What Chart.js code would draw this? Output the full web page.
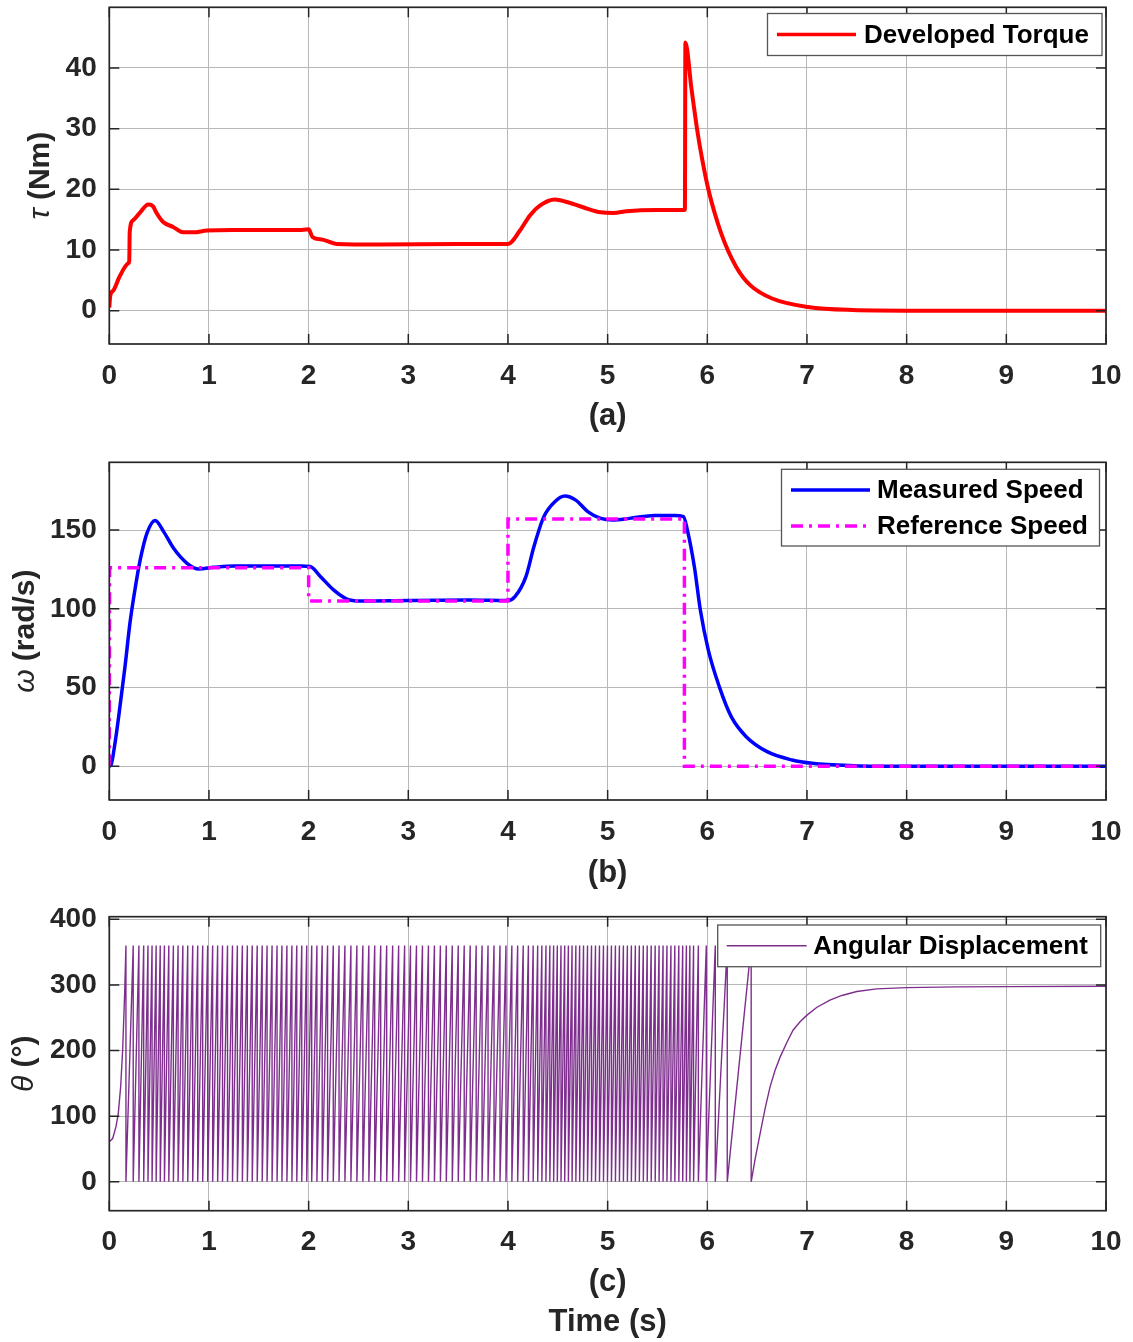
<!DOCTYPE html>
<html>
<head>
<meta charset="utf-8">
<title>Torque, speed and angular displacement</title>
<script src="https://cdn.jsdelivr.net/npm/chart.js@4.4.1/dist/chart.umd.min.js"></script>
<style>
  html, body { margin: 0; padding: 0; background: #fff; }
  #wrap { position: relative; width: 1133px; height: 1342px; }
  canvas { position: absolute; left: 0; }
</style>
</head>
<body>
<div id="wrap">
  <canvas id="torque" width="1133" height="450" style="top:0;width:1133px;height:450px"></canvas>
  <canvas id="speed" width="1133" height="450" style="top:450px;width:1133px;height:450px"></canvas>
  <canvas id="angle" width="1133" height="442" style="top:900px;width:1133px;height:442px"></canvas>
</div>
<script>
// Motor drive response: developed torque, speed tracking and rotor angle.

const xTicks = [0, 1, 2, 3, 4, 5, 6, 7, 8, 9, 10];
const torqueTicks = [0, 10, 20, 30, 40];
const speedTicks = [0, 50, 100, 150];
const angleTicks = [0, 100, 200, 300, 400];

// (a) developed torque, Nm
const torqueT  = [0, 0.01, 0.04, 0.1, 0.19, 0.2, 0.205, 0.24, 0.31, 0.39, 0.44, 0.47, 0.54, 0.64, 0.74, 0.84, 0.98, 1.24, 1.9, 2.0,
                  2.04, 2.14, 2.28, 2.71, 3.5, 4.0, 4.12, 4.22, 4.32, 4.47, 4.59, 4.76, 4.93, 5.06, 5.19, 5.49, 5.775,
                  5.78, 5.84, 5.9, 5.95, 6.01, 6.14, 6.29, 6.43, 6.65, 7.01, 7.46, 8.0, 10.0];
const torqueNm = [0.5, 2.5, 3.3, 5.5, 7.8, 8.2, 13.0, 14.9, 16.2, 17.5, 17.2, 16.2, 14.6, 13.8, 12.9, 12.9, 13.2, 13.3, 13.3, 13.4,
                  12.1, 11.7, 11.0, 10.9, 11.0, 11.0, 13.2, 15.7, 17.3, 18.3, 17.9, 17.0, 16.2, 16.1, 16.4, 16.6, 16.6,
                  44.2, 36.7, 29.6, 24.8, 20.0, 12.7, 7.2, 4.2, 2.0, 0.6, 0.1, 0, 0];

// (b) measured and reference speed, rad/s
const speedT    = [0, 0.017, 0.057, 0.107, 0.157, 0.207, 0.257, 0.31, 0.378, 0.46, 0.545, 0.645, 0.78, 0.896, 1.046, 1.25, 1.92,
                   2.015, 2.12, 2.25, 2.384, 2.52, 3.0, 3.6, 4.0, 4.07, 4.18, 4.26, 4.36, 4.47, 4.57, 4.68, 4.8, 4.93, 5.05,
                   5.22, 5.47, 5.67, 5.76, 5.8, 5.87, 5.93, 6.01, 6.12, 6.24, 6.39, 6.6, 6.85, 7.05, 7.47, 8.0, 10.0];
const speedMeas = [0, 0.8, 14.6, 37.9, 63, 90.8, 112, 131, 148, 156, 149, 138.4, 128.9, 125.3, 126.3, 127.2, 127.2,
                   126.8, 120.4, 112, 106.2, 105, 105.3, 105.5, 105.2, 107.7, 120.4, 139.4, 158.5, 168, 171.6, 169, 161.7, 157.4, 156.4,
                   157.4, 159.3, 159.3, 158.5, 150, 126.7, 99.2, 73.8, 50.6, 31.5, 18.8, 9.3, 4.0, 1.9, 0.4, 0, 0];
const refT      = [0, 0.003, 2, 2, 4, 4, 5.77, 5.77, 10];
const refSpeed  = [0, 126, 126, 105, 105, 157, 157, 0, 0];

// (c) angular displacement, degrees
const angleStartT   = [0, 0.034, 0.067, 0.09, 0.114, 0.134, 0.154];
const angleStartDeg = [61, 66, 84, 104, 145, 201, 287];
// instants where the angle wraps from 360 back to 0
const wrapT = [0.167, 0.240, 0.297, 0.345, 0.388, 0.429, 0.470, 0.511, 0.553, 0.597, 0.643, 0.690, 0.738, 0.787, 0.837, 0.887, 0.937, 0.987,
  1.037, 1.087, 1.136, 1.186, 1.236, 1.285, 1.335, 1.385, 1.434, 1.484, 1.534, 1.583, 1.633, 1.683, 1.732, 1.782, 1.832, 1.881, 1.931, 1.981,
  2.031, 2.083, 2.136, 2.190, 2.247, 2.305, 2.364, 2.424, 2.484, 2.544, 2.604, 2.663, 2.723, 2.783, 2.843, 2.903, 2.963,
  3.022, 3.082, 3.142, 3.202, 3.262, 3.322, 3.381, 3.441, 3.501, 3.561, 3.621, 3.681, 3.740, 3.800, 3.860, 3.920, 3.980,
  4.039, 4.097, 4.153, 4.205, 4.253, 4.298, 4.340, 4.381, 4.420, 4.458, 4.495, 4.532, 4.569, 4.606, 4.643, 4.681, 4.719, 4.758,
  4.798, 4.838, 4.878, 4.918, 4.958, 4.998, 5.038, 5.078, 5.118, 5.158, 5.198, 5.238, 5.278, 5.318, 5.358, 5.397, 5.437, 5.477,
  5.516, 5.556, 5.595, 5.635, 5.674, 5.714, 5.753, 5.790, 5.825, 5.862, 5.910, 5.990, 6.080, 6.200, 6.440];
const angleEndT   = [6.48, 6.53, 6.58, 6.63, 6.68, 6.73, 6.8, 6.86, 6.93, 7.0, 7.1, 7.23, 7.35, 7.5, 7.7, 8.0, 8.5, 9.0, 10.0];
const angleEndDeg = [35, 74, 112, 145, 170, 190, 213, 231, 244, 254, 266, 277, 284, 290, 294, 296, 297, 297.5, 298];

const AXIS = "#262626";
const GRID = "#b8b8b8";
const TICK_LEN = 10;
const FAMILY = "'Liberation Sans', Arial, sans-serif";
const tickFont = { family: FAMILY, size: 28, weight: "bold", lineHeight: 1.2 };
const legendFont = "bold 26px " + FAMILY;

const pts = (xs, ys) => xs.map((x, i) => ({ x, y: ys[i] }));

function anglePoints() {
  const out = pts(angleStartT, angleStartDeg);
  wrapT.forEach((w) => { out.push({ x: w, y: 360 }, { x: w, y: 0 }); });
  return out.concat(pts(angleEndT, angleEndDeg));
}

// box, inside ticks, boxed legend and the mixed-font y label (MATLAB look)
const matlabAxes = {
  id: "matlabAxes",
  afterDraw(chart, args, o) {
    const { ctx, chartArea: a, scales: { x, y } } = chart;
    ctx.save();
    ctx.strokeStyle = AXIS;
    ctx.lineWidth = 1.5;
    ctx.beginPath();
    x.ticks.forEach((t) => {
      const p = x.getPixelForValue(t.value);
      ctx.moveTo(p, a.bottom); ctx.lineTo(p, a.bottom - TICK_LEN);
      ctx.moveTo(p, a.top); ctx.lineTo(p, a.top + TICK_LEN);
    });
    y.ticks.forEach((t) => {
      const p = y.getPixelForValue(t.value);
      ctx.moveTo(a.left, p); ctx.lineTo(a.left + TICK_LEN, p);
      ctx.moveTo(a.right, p); ctx.lineTo(a.right - TICK_LEN, p);
    });
    ctx.stroke();
    ctx.lineWidth = 1.7;
    ctx.strokeRect(a.left, a.top, a.right - a.left, a.bottom - a.top);

    const L = o.legend;
    ctx.fillStyle = "#fff";
    ctx.fillRect(L.x, L.y, L.w, L.h);
    ctx.lineWidth = 1.3;
    ctx.strokeStyle = "#555";
    ctx.strokeRect(L.x, L.y, L.w, L.h);
    L.items.forEach((it) => {
      ctx.beginPath();
      ctx.strokeStyle = it.color;
      ctx.lineWidth = it.width;
      ctx.setLineDash(it.dash || []);
      ctx.moveTo(L.lineX0, it.y);
      ctx.lineTo(L.lineX1, it.y);
      ctx.stroke();
      ctx.setLineDash([]);
      ctx.fillStyle = "#000";
      ctx.font = legendFont;
      ctx.textAlign = "left";
      ctx.textBaseline = "middle";
      ctx.fillText(it.text, L.textX, it.y + 1);
    });

    const t = o.ytitle;
    ctx.translate(t.x, (a.top + a.bottom) / 2);
    ctx.rotate(-Math.PI / 2);
    ctx.fillStyle = AXIS;
    ctx.textBaseline = "middle";
    ctx.textAlign = "left";
    const symFont = "italic 30px " + FAMILY;
    const restFont = "bold 30px " + FAMILY;
    ctx.font = symFont;
    const w1 = ctx.measureText(t.sym).width;
    ctx.font = restFont;
    const w2 = ctx.measureText(t.rest).width;
    const sx = -(w1 + w2) / 2;
    ctx.font = symFont;
    ctx.fillText(t.sym, sx, 0);
    ctx.font = restFont;
    ctx.fillText(t.rest, sx + w1, 0);
    ctx.restore();
  }
};

function panel(id, p) {
  return new Chart(document.getElementById(id), {
    type: "line",
    data: { datasets: p.datasets },
    options: {
      responsive: false,
      animation: false,
      events: [],
      layout: { padding: { top: p.padTop, right: 27, left: 0, bottom: 0 } },
      elements: { point: { radius: 0 } },
      plugins: {
        legend: { display: false },
        tooltip: { enabled: false },
        matlabAxes: { legend: p.legend, ytitle: p.ytitle }
      },
      scales: {
        x: {
          type: "linear", min: 0, max: 10,
          afterBuildTicks: (s) => { s.ticks = xTicks.map((v) => ({ value: v })); },
          afterFit: (s) => { s.height = p.xHeight; s.paddingLeft = 0; s.paddingRight = 0; },
          grid: { color: GRID, lineWidth: 1, drawTicks: false },
          border: { display: false },
          ticks: { color: AXIS, font: tickFont, padding: 15.2, autoSkip: false, maxRotation: 0 },
          title: {
            display: true, text: p.xTitle, color: AXIS,
            font: { family: FAMILY, size: 31, weight: "bold", lineHeight: p.titleLH },
            padding: { top: 0, bottom: p.titlePad }
          }
        },
        y: {
          type: "linear", min: p.yMin, max: p.yMax,
          afterBuildTicks: (s) => { s.ticks = p.yTicks.map((v) => ({ value: v })); },
          afterFit: (s) => { s.width = 109.3; s.paddingTop = 0; s.paddingBottom = 0; },
          grid: { color: GRID, lineWidth: 1, drawTicks: false },
          border: { display: false },
          ticks: { color: AXIS, font: tickFont, padding: 12.6 }
        }
      }
    },
    plugins: [matlabAxes]
  });
}

panel("torque", {
  padTop: 7.3, xHeight: 106, titlePad: 15.4, titleLH: 1.2, xTitle: "(a)",
  yMin: -5.5, yMax: 50, yTicks: torqueTicks,
  ytitle: { x: 41, sym: "τ", rest: " (Nm)" },
  legend: {
    x: 767.5, y: 13.5, w: 334.5, h: 42, lineX0: 777, lineX1: 856, textX: 864,
    items: [{ text: "Developed Torque", color: "#ff0000", width: 3.5, y: 34.5 }]
  },
  datasets: [{
    data: pts(torqueT, torqueNm), borderColor: "#ff0000", borderWidth: 4,
    cubicInterpolationMode: "monotone", fill: false
  }]
});

panel("speed", {
  padTop: 12.3, xHeight: 100, titlePad: 8.4, titleLH: 1.2, xTitle: "(b)",
  yMin: -21.4, yMax: 193, yTicks: speedTicks,
  ytitle: { x: 26, sym: "ω", rest: " (rad/s)" },
  legend: {
    x: 781.5, y: 19.3, w: 318, h: 76.7, lineX0: 791, lineX1: 870, textX: 877,
    items: [
      { text: "Measured Speed", color: "#0000ff", width: 3.5, y: 40 },
      { text: "Reference Speed", color: "#ff00ff", width: 3.5, y: 76, dash: [12, 6, 3, 6] }
    ]
  },
  datasets: [
    { data: pts(speedT, speedMeas), borderColor: "#0000ff", borderWidth: 3.5,
      cubicInterpolationMode: "monotone", fill: false, order: 1 },
    { data: pts(refT, refSpeed), borderColor: "#ff00ff", borderWidth: 3.5,
      borderDash: [12, 6, 3, 6], tension: 0, fill: false, order: 0 }
  ]
});

panel("angle", {
  padTop: 16.7, xHeight: 131.3, titlePad: 0, titleLH: 40 / 31, xTitle: ["(c)", "Time (s)"],
  yMin: -44, yMax: 404, yTicks: angleTicks,
  ytitle: { x: 25, sym: "θ", rest: " (°)" },
  legend: {
    x: 717.7, y: 25, w: 383, h: 41.7, lineX0: 726.7, lineX1: 806.7, textX: 813.3,
    items: [{ text: "Angular Displacement", color: "#7e2f8e", width: 1.5, y: 45.7 }]
  },
  datasets: [{
    data: anglePoints(), borderColor: "#7e2f8e", borderWidth: 1.4, tension: 0, fill: false
  }]
});
</script>
</body>
</html>
